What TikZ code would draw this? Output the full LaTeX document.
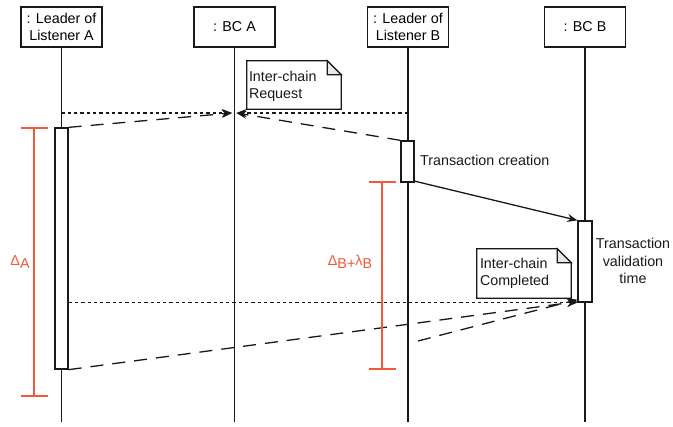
\documentclass[tikz,border=0pt]{standalone}
\usepackage{fontspec}
\setmainfont{Liberation Sans}
\usetikzlibrary{arrows.meta,calc}
\definecolor{ink}{RGB}{25,25,25}
\definecolor{mark}{RGB}{242,88,58}
\definecolor{foldgray}{RGB}{232,232,232}
\tikzset{
  head/.style={draw=ink, line width=1.3pt, fill=white, minimum width=81pt, minimum height=40pt,
    align=center, inner sep=1pt, font=\fontsize{14.3}{17}\selectfont},
  life/.style={draw=ink, line width=1.1pt},
  act/.style={draw=ink, line width=1.3pt, fill=white, inner sep=0pt},
  tip/.style={-{Stealth[length=10pt,width=8pt]}},
  msgdot/.style={draw=ink, line width=1.3pt, dash pattern=on 3.3pt off 3pt, tip},
  msgdash/.style={draw=ink, line width=1.3pt, dash pattern=on 13pt off 9pt, tip},
  msgsolid/.style={draw=ink, line width=1.3pt, tip},
  notebox/.style={minimum width=94pt, inner sep=0pt},
  notetext/.style={align=left, inner sep=0pt, font=\fontsize{14.3}{17}\selectfont, text=ink},
  plain/.style={inner sep=0pt, font=\fontsize{14.3}{17.5}\selectfont, text=ink},
  span/.style={draw=mark, line width=1.2pt},
  spanlabel/.style={inner sep=0pt, text=mark, font=\fontsize{14.3}{17}\selectfont},
}
\newcommand{\lowered}[1]{\raisebox{-3.5pt}{#1}}
\begin{document}
\begin{tikzpicture}[x=1pt,y=-1pt]
\useasboundingbox (0,0) rectangle (673,427);

% participant heads
\node[head] (leadA) at (61.5,27) {: Leader of\\Listener A};
\node[head] (bcA)   at (234.5,27) {: BC A};
\node[head] (leadB) at (408,27) {: Leader of\\Listener B};
\node[head] (bcB)   at (585,27) {: BC B};

% lifeline ends
\coordinate (endA)  at (61.5,422);
\coordinate (endBA) at (234.5,422);
\coordinate (endB)  at (408,422);
\coordinate (endBB) at (585,422);
\draw[life] (leadA.south) -- (endA);
\draw[life] (bcA.south) -- (endBA);
\draw[life] (leadB.south) -- (endB);
\draw[life] (bcB.south) -- (endBB);

% activation bars
\node[act, minimum width=13pt, minimum height=241pt] (actA)  at (61.5,248.5) {};
\node[act, minimum width=13pt, minimum height=41pt]  (actB)  at (407.5,161.5) {};
\node[act, minimum width=14pt, minimum height=81pt]  (actBB) at (585,261.5) {};

% request note
\node[notebox, minimum height=48pt] (noteReq) at (294,85) {};
\draw[draw=ink, line width=1.2pt, fill=white]
  (noteReq.south west) -- (noteReq.north west) -- ([xshift=-14pt]noteReq.north east)
  -- ([yshift=-14pt]noteReq.north east) -- (noteReq.south east) -- cycle;
\draw[draw=ink, line width=1.2pt, fill=foldgray]
  ([xshift=-14pt]noteReq.north east) -- ([xshift=-14pt,yshift=-14pt]noteReq.north east)
  -- ([yshift=-14pt]noteReq.north east) -- cycle;
\node[notetext, anchor=west] (reqText) at ([xshift=2pt,yshift=-1pt]noteReq.west) {Inter-chain\\Request};

% completion note
\node[notebox, minimum height=49pt] (noteDone) at (524,273.5) {};
\draw[draw=ink, line width=1.2pt, fill=white]
  (noteDone.south west) -- (noteDone.north west) -- ([xshift=-14pt]noteDone.north east)
  -- ([yshift=-14pt]noteDone.north east) -- (noteDone.south east) -- cycle;
\draw[draw=ink, line width=1.2pt, fill=foldgray]
  ([xshift=-14pt]noteDone.north east) -- ([xshift=-14pt,yshift=-14pt]noteDone.north east)
  -- ([yshift=-14pt]noteDone.north east) -- cycle;
\node[notetext, anchor=west] (doneText) at ([xshift=3pt,yshift=0pt]noteDone.west) {Inter-chain\\Completed};

% request messages towards BC A
\coordinate (reqA) at (61.5,113);
\coordinate (reqB) at (408,113);
\coordinate (hitL) at (232,113);
\coordinate (hitR) at (236.5,113);
\draw[msgdot] (reqA) -- (hitL);
\draw[msgdot] (reqB) -- (hitR);
\draw[msgdash] (actA.north east) -- (hitL);
\draw[msgdash] (actB.north west) -- (hitR);

% transaction to BC B
\draw[msgsolid] ([yshift=1.5pt]actB.south east) -- (actBB.north west);

% completion messages
\coordinate (fromB) at (418,341);
\draw[msgdot] (actA.east |- actBB.south west) -- (actBB.south west);
\draw[msgdash] (actA.south east) -- ([yshift=1pt]actBB.south west);
\draw[msgdash] (fromB) -- ([yshift=3pt]actBB.south west);

% labels
\node[plain, anchor=west] (creation) at (420,160) {Transaction creation};
\node[plain, align=center] (validation) at (633,261) {Transaction\\validation\\time};

% latency spans
\coordinate (sAtop) at (34,128);
\coordinate (sAbot) at (34,396);
\draw[span] (sAtop) -- (sAbot);
\draw[span] ([xshift=-13.5pt]sAtop) -- ([xshift=13.5pt]sAtop);
\draw[span] ([xshift=-13.5pt]sAbot) -- ([xshift=13.5pt]sAbot);
\node[spanlabel] (lblA) at (20,262) {Δ\lowered{A}};

\coordinate (sBtop) at (382,182);
\coordinate (sBbot) at (382,369);
\draw[span] (sBtop) -- (sBbot);
\draw[span] ([xshift=-13.5pt]sBtop) -- ([xshift=13.5pt]sBtop);
\draw[span] ([xshift=-13.5pt]sBbot) -- ([xshift=13.5pt]sBbot);
\node[spanlabel] (lblB) at (350,262) {Δ\lowered{B+}λ\lowered{B}};
\end{tikzpicture}
\end{document}
